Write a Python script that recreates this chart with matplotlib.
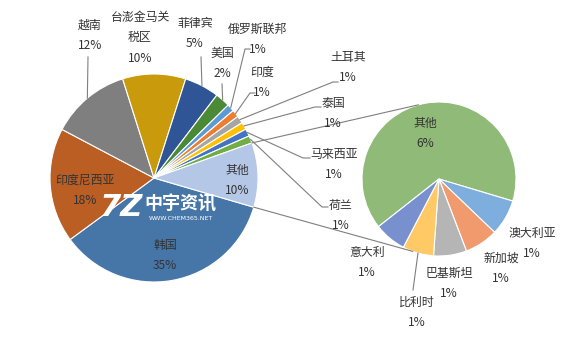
import numpy as np
import matplotlib.pyplot as plt

plt.rcParams['font.family'] = ['Noto Sans CJK SC', 'DejaVu Sans']

# main pie (percent of total)
main_names = ['韩国', '印度尼西亚', '越南', '台澎金马关税区', '菲律宾', '美国',
              '俄罗斯联邦', '印度', '土耳其', '泰国', '马来西亚', '荷兰', '其他']
main_values = [35.4, 17.8, 12.4, 9.8, 5.4, 2.3,
               1.15, 1.15, 1.15, 1.15, 1.15, 1.15, 10.0]
main_colors = ['#4676A8', '#BA5E24', '#7F7F7F', '#C99A0C', '#2F5597', '#4A8A35',
               '#5B9BD5', '#ED7D31', '#A5A5A5', '#FFC000', '#4472C4', '#70AD47',
               '#B4C7E7']

# breakdown of "其他"
sub_names = ['其他', '澳大利亚', '新加坡', '巴基斯坦', '比利时', '意大利']
sub_values = [6.4, 0.74, 0.69, 0.68, 0.64, 0.66]
sub_colors = ['#8FBA78', '#7DAEDD', '#F09A6E', '#B5B5B5', '#FFC966', '#7891CE']

H = 358
MAIN_C, MAIN_R = (154, 178), 104
SUB_C, SUB_R = (439, 179), 77

# label layout in pixels: name-line centre, leader end (None = no leader)
main_layout = {
    '韩国': ((165, 245), None),
    '印度尼西亚': ((85, 180), None),
    '越南': ((90, 25), [(88, 57)]),
    '台澎金马关税区': ((140, 17), None),
    '菲律宾': ((195, 23), [(201, 57)]),
    '美国': ((222, 53), [(222, 84)]),
    '俄罗斯联邦': ((258, 29), [(245, 49), (250, 49)]),
    '印度': ((262, 72), [(250, 93), (255, 93)]),
    '土耳其': ((348, 57), [(333, 82), (338, 82)]),
    '泰国': ((333, 103), [(315, 107), (321, 107)]),
    '马来西亚': ((334, 154), [(303, 158), (310, 158)]),
    '荷兰': ((341, 205), [(322, 207), (328, 207)]),
    '其他': ((237, 170), None),
}
sub_layout = {
    '其他': ((425, 123), None),
    '澳大利亚': ((532, 233), None),
    '新加坡': ((501, 258), None),
    '巴基斯坦': ((449, 273), None),
    '比利时': ((417, 302), [(413, 290)]),
    '意大利': ((367, 252), None),
}

TXT = '#333333'
LINE = '#7F7F7F'


def fy(y):
    return H - y


def draw_pie(ax, values, colors, center, radius, start):
    wedges, _ = ax.pie(values, colors=colors, radius=radius,
                       center=(center[0], fy(center[1])), startangle=start,
                       counterclock=False,
                       wedgeprops=dict(edgecolor='white', linewidth=0.8))
    return wedges


def edge_point(w, center, radius):
    a = np.deg2rad((w.theta1 + w.theta2) / 2)
    return center[0] + radius * np.cos(a), center[1] - radius * np.sin(a)


def put_labels(ax, names, values, wedges, layout, center, radius):
    for name, v, w in zip(names, values, wedges):
        (x, y), leader = layout[name]
        lines = [name] if len(name) <= 5 else [name[:5], name[5:]]
        lines.append(f'{round(v)}%')
        for i, s in enumerate(lines):
            ax.text(x, fy(y + 20.5 * i), s, ha='center', va='center',
                    fontsize=8.6, color=TXT, zorder=5)
        if leader:
            pts = [edge_point(w, center, radius)] + leader
            ax.plot([p[0] for p in pts], [fy(p[1]) for p in pts],
                    color=LINE, lw=0.8, zorder=4)


fig = plt.figure(figsize=(5.67, 3.58), dpi=100)
ax = fig.add_axes([0, 0, 1, 1])

main_w = draw_pie(ax, main_values, main_colors, MAIN_C, MAIN_R, -16.3)
sub_w = draw_pie(ax, sub_values, sub_colors, SUB_C, SUB_R, 218.2)

put_labels(ax, main_names, main_values, main_w, main_layout, MAIN_C, MAIN_R)
put_labels(ax, sub_names, sub_values, sub_w, sub_layout, SUB_C, SUB_R)

# connector lines between the "其他" slice and the second pie
other = main_w[-1]
for a_main, a_sub in [(other.theta2, 105.6), (other.theta1, -110.0)]:
    x0 = MAIN_C[0] + MAIN_R * np.cos(np.deg2rad(a_main))
    y0 = MAIN_C[1] - MAIN_R * np.sin(np.deg2rad(a_main))
    x1 = SUB_C[0] + SUB_R * np.cos(np.deg2rad(a_sub))
    y1 = SUB_C[1] - SUB_R * np.sin(np.deg2rad(a_sub))
    ax.plot([x0, x1], [fy(y0), fy(y1)], color=LINE, lw=0.8, zorder=4)

# watermark
ax.text(121, fy(208), '7Z', ha='center', va='center', fontsize=22,
        fontweight='bold', fontstyle='italic', color='white', zorder=6,
        family='DejaVu Sans')
ax.text(180, fy(204), '中宇资讯', ha='center', va='center', fontsize=13,
        fontweight='bold', color='white', zorder=6)
ax.text(181, fy(218), 'WWW.CHEM365.NET', ha='center', va='center',
        fontsize=4.5, color='white', zorder=6, family='DejaVu Sans')

ax.set_xlim(0, 567)
ax.set_ylim(0, H)
ax.set_aspect('equal')
ax.axis('off')

fig.savefig('out.png', dpi=100, facecolor='white')
